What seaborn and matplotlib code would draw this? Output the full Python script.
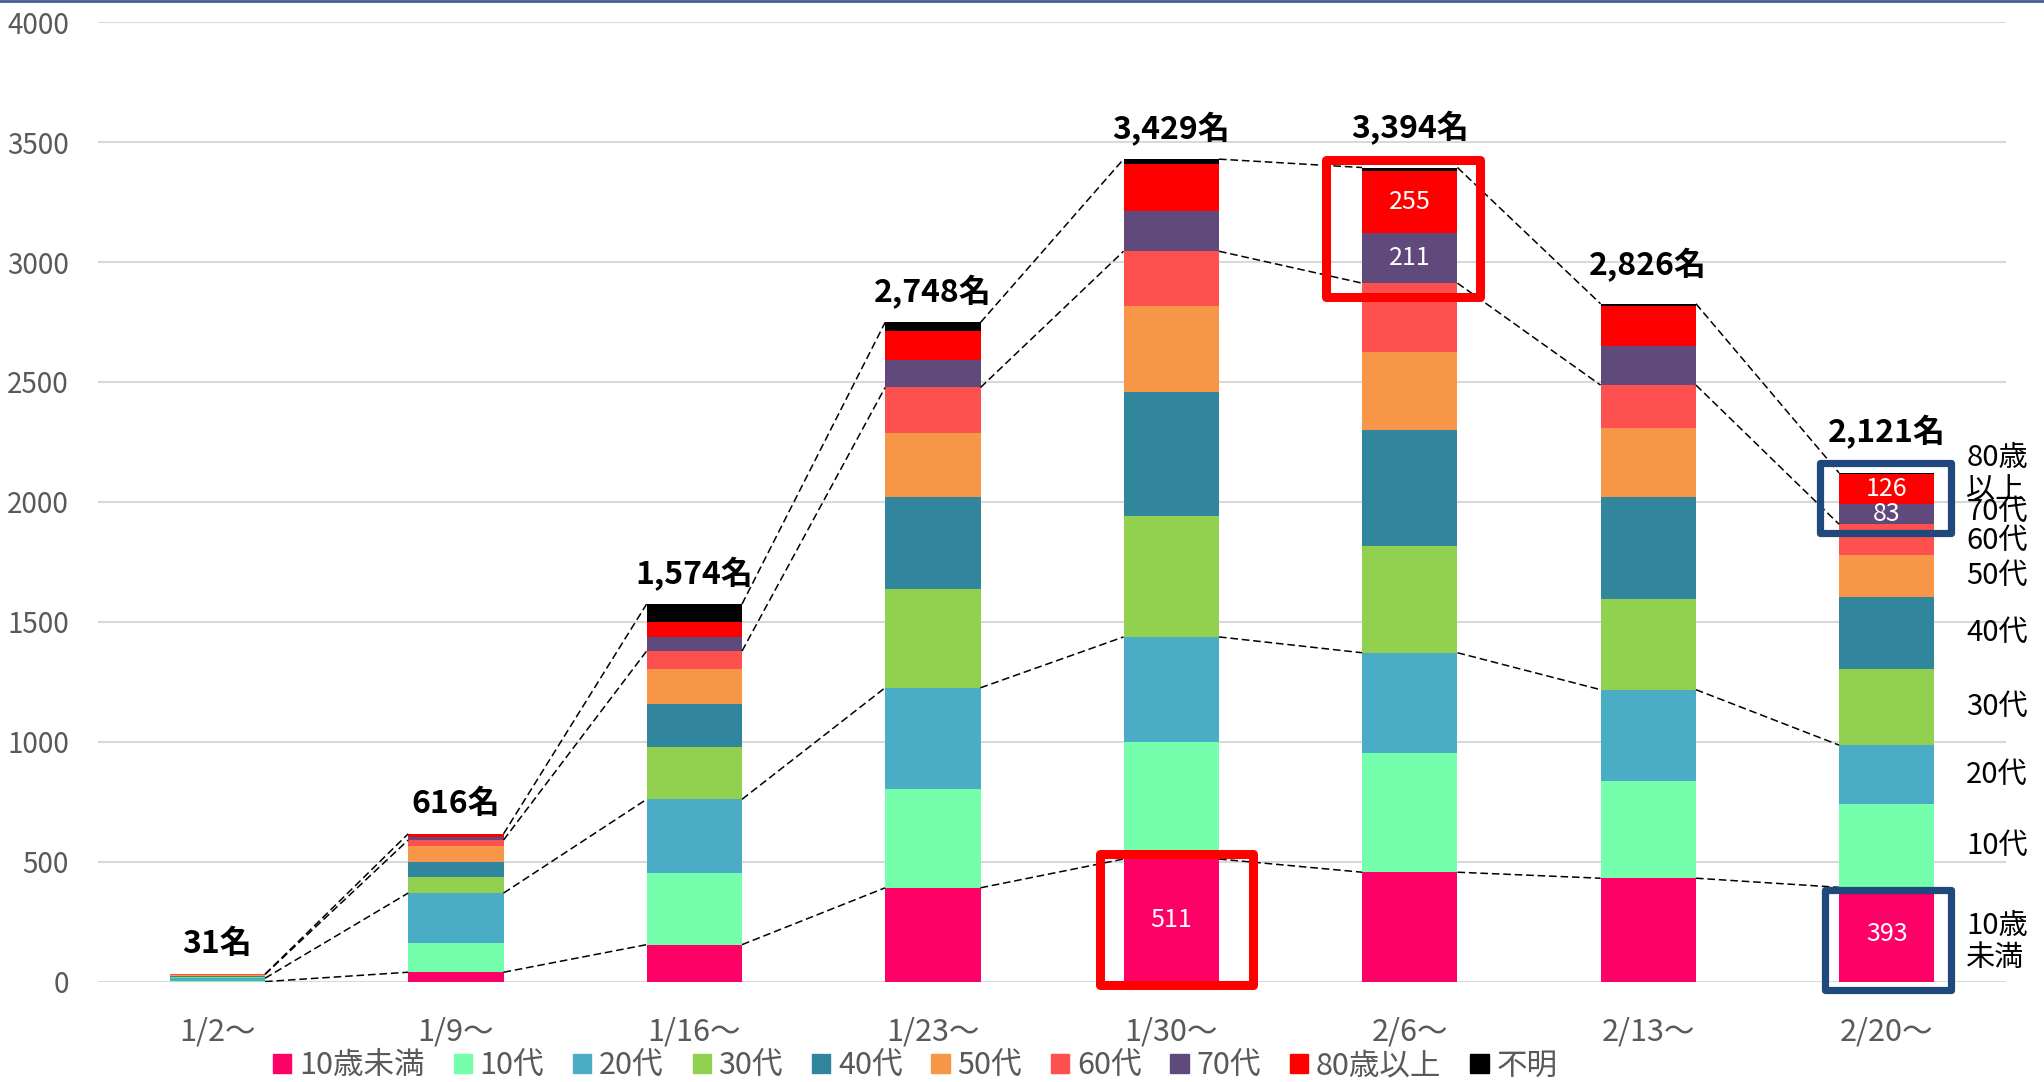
import matplotlib.pyplot as plt
import matplotlib.patches as mpatches
from matplotlib.lines import Line2D
import seaborn as sns
import numpy as np

# weekly cases by age group
weeks = ['1/2〜', '1/9〜', '1/16〜', '1/23〜', '1/30〜', '2/6〜', '2/13〜', '2/20〜']
age_groups = ['10歳未満', '10代', '20代', '30代', '40代', '50代', '60代', '70代', '80歳以上', '不明']

under10 = [0, 39, 154, 391, 511, 456, 431, 393]
teens = [2, 123, 298, 411, 486, 499, 405, 347]
twenties = [12, 207, 308, 423, 440, 416, 381, 246]
thirties = [5, 67, 219, 411, 505, 444, 377, 317]
forties = [4, 63, 179, 385, 517, 486, 427, 300]
fifties = [6, 66, 145, 267, 357, 323, 287, 177]
sixties = [1, 25, 75, 189, 229, 288, 179, 127]
seventies = [1, 14, 57, 113, 167, 211, 165, 83]
over80 = [0, 10, 64, 122, 196, 255, 164, 126]
unknown = [0, 2, 75, 36, 21, 16, 10, 5]

side_labels = ['10歳\n未満', '10代', '20代', '30代', '40代', '50代', '60代', '70代', '80歳\n以上']

# segments that carry a value label: (week, age group)
highlights = [(4, '10歳未満'), (5, '70代'), (5, '80歳以上'),
              (7, '10歳未満'), (7, '70代'), (7, '80歳以上')]

colors = ['#FF0066', '#75FFAD', '#4BACC6', '#92D050', '#31859C',
          '#F79646', '#FF5050', '#604A7B', '#FF0000', '#000000']

sns.set_style('white')
plt.rcParams['font.family'] = ['Noto Sans CJK JP', 'DejaVu Sans']

series = [under10, teens, twenties, thirties, forties, fifties, sixties, seventies, over80, unknown]
data = np.array(series)
cum = np.cumsum(data, axis=0)
totals = cum[-1]

fig = plt.figure(figsize=(20.44, 10.82), dpi=100)
ax = fig.add_axes([0.048, 0.0928, 0.9334, 0.8867])

bar_w = 0.4
bottom = np.zeros(len(weeks))
for name, vals, c in zip(age_groups, series, colors):
    sns.barplot(x=weeks, y=vals, bottom=bottom, color=c, width=bar_w, saturation=1,
                errorbar=None, linewidth=0, ax=ax, label=name)
    bottom = bottom + np.array(vals)

# dashed connectors between bars
for lvl in [0, 2, 6, 9]:
    for i in range(len(weeks) - 1):
        ax.plot([i + bar_w / 2, i + 1 - bar_w / 2], [cum[lvl][i], cum[lvl][i + 1]],
                color='black', lw=1.1, ls=(0, (5, 2.5)), zorder=4)

# totals above bars
lift = [125, 125, 125, 125, 125, 165, 160, 172]
for i, t in enumerate(totals):
    ax.text(i, t + lift[i], f'{t:,}名', ha='center', va='center',
            fontsize=23, fontweight='bold', color='black')

# value labels inside segments
for i, g in highlights:
    k = age_groups.index(g)
    lo = cum[k][i] - data[k][i]
    ax.text(i, lo + data[k][i] / 2, str(data[k][i]), ha='center', va='center',
            fontsize=18, color='white', zorder=5)

# highlight boxes: week, first group, last group, colour, left, right, pad below, pad above
boxes = [(4, 0, 0, '#FF0000', 0.301, 0.342, 13, 21),
         (5, 7, 8, '#FF0000', 0.351, 0.293, 58, 48),
         (7, 0, 0, '#1F497D', 0.258, 0.269, 35, -11),
         (7, 7, 8, '#1F497D', 0.280, 0.269, 38, 47)]
for i, g0, g1, c, l, r, pl, ph in boxes:
    y0 = cum[g0][i] - data[g0][i] - pl
    y1 = cum[g1][i] + ph
    lw = 6.5 if c == '#FF0000' else 5.2
    ax.add_patch(mpatches.Rectangle((i - l, y0), l + r, y1 - y0, fill=False,
                                    edgecolor=c, lw=lw, joinstyle='round', zorder=6,
                                    clip_on=False))

# age labels to the right of the last bar
last = len(weeks) - 1
shift = {0: -30, 6: -8, 7: 8, 8: 62}
for k, lab in enumerate(side_labels):
    mid = cum[k][last] - data[k][last] / 2 + shift.get(k, 0)
    ax.text(last + 0.333, mid, lab, ha='left', va='center', fontsize=21,
            color='black', linespacing=1.1, zorder=7)

ax.set_xlim(-0.5, len(weeks) - 0.5)
ax.set_ylim(0, 4000)
ax.set_yticks(np.arange(0, 4001, 500))
ax.set_xlabel('')
ax.set_ylabel('')
ax.yaxis.grid(True, color='#D9D9D9', lw=1.5)
ax.set_axisbelow(True)
sns.despine(ax=ax, left=True, bottom=True)
ax.tick_params(axis='y', length=0, pad=21, labelsize=20, labelcolor='#595959')
ax.tick_params(axis='x', length=0, pad=25, labelsize=22, labelcolor='#595959')

if ax.get_legend() is not None:
    ax.get_legend().remove()
handles = [mpatches.Patch(color=c, label=n) for n, c in zip(age_groups, colors)]
fig.legend(handles=handles, loc='center', bbox_to_anchor=(0.4477, 0.0148), ncol=10,
           frameon=False, fontsize=22, labelcolor='#595959', handlelength=0.6,
           handleheight=0.6, handletextpad=0.25, columnspacing=0.95, borderpad=0)

fig.add_artist(Line2D([0, 1], [0.999, 0.999], color='#3F5F8F', lw=2))

plt.savefig('out.png', dpi=100)
